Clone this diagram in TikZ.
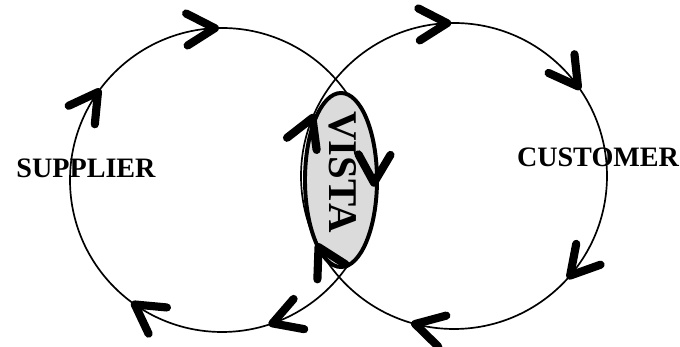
\documentclass[tikz,border=0pt]{standalone}
\usepackage{fontspec}
\setmainfont{Liberation Serif}
\usetikzlibrary{shapes.geometric}
\begin{document}
\begin{tikzpicture}[x=0.025cm, y=0.025cm,
    ring/.style={draw, line width=1.2pt},
    chev/.style={draw, line width=5.8pt, line cap=round, line join=round},
    lens/.style={draw, ellipse, line width=2.8pt, fill=gray!28, minimum width=1.8cm, minimum height=4.35cm, inner sep=0pt},
    party/.style={font=\fontsize{20}{24}\selectfont\bfseries, inner sep=0pt}
]
\useasboundingbox (0,0) rectangle (680,347);
\coordinate (sup) at (222,167);
\coordinate (cus) at (454,171);

% two cycles
\draw[ring] (sup) circle[radius=152];
\draw[ring] (cus) circle[radius=153];

% overlap
\node[lens] (overlap) at (341,167) {};
\node[rotate=-90, font=\fontsize{29}{32}\selectfont\bfseries, inner sep=0pt] (vista) at (343,175) {VISTA};

\node[party] (supplier) at (86,179) {SUPPLIER};
\node[party] (customer) at (598,190) {CUSTOMER};

% clockwise arrowheads
\foreach \c/\r/\a in {sup/152/92.7, sup/152/144.7, sup/152/235, sup/152/289.4, sup/152/-1,
    cus/153/92.6, cus/153/35.9, cus/153/-40.6, cus/153/255.3, cus/153/157.7, cus/153/207.7} {
    \draw[chev, shift={(\c)}, rotate=\a] (\r-16,28) -- (\r,0) -- (\r+16,28);
}
\end{tikzpicture}
\end{document}
